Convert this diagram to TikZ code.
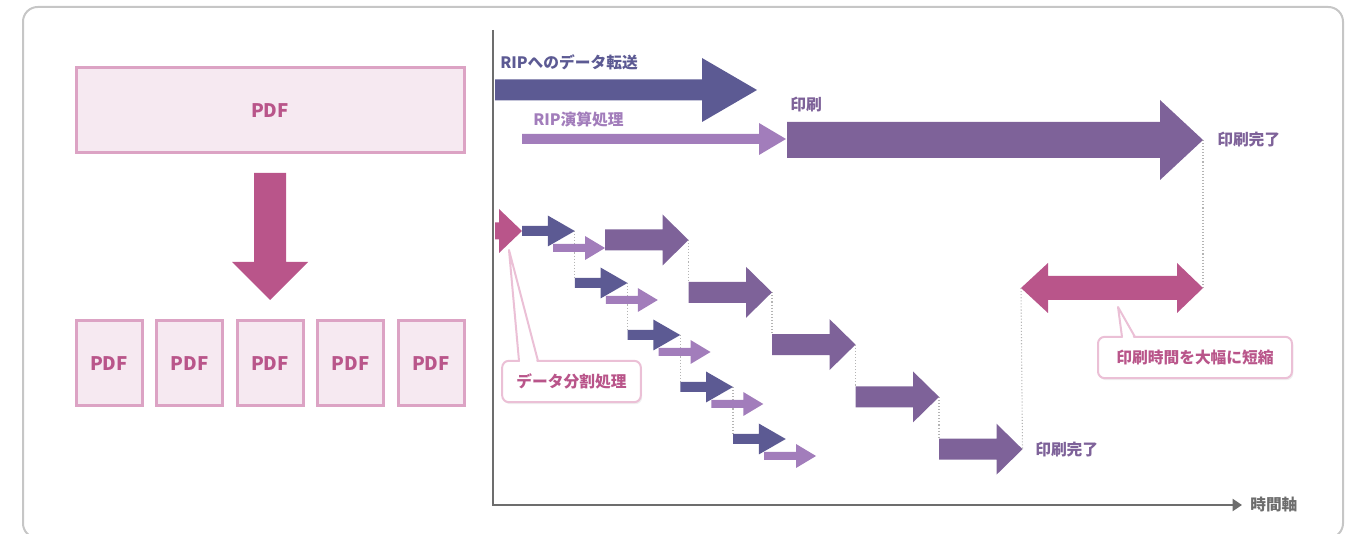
\documentclass[tikz,border=0pt]{standalone}
\usepackage{fontspec}
\setmainfont{Noto Sans CJK JP}
\usetikzlibrary{arrows.meta,shadows,backgrounds}
\definecolor{pinkc}{HTML}{B9558A}
\definecolor{boxline}{HTML}{DCA3C4}
\definecolor{boxfill}{HTML}{F6E9F1}
\definecolor{transc}{HTML}{5C5A93}
\definecolor{ripc}{HTML}{A27DBB}
\definecolor{printc}{HTML}{7E6299}
\definecolor{axisc}{HTML}{6D6D6D}
\definecolor{framec}{HTML}{C6C6C6}
\definecolor{callc}{HTML}{EBC0D6}
\definecolor{dotc}{HTML}{B4B4B4}
% block arrow: name, colour, x start, y centre, length, shaft half, head half, head length
\newcommand{\blockarrow}[8]{%
	\fill[#2] (#3,#4-#6)--++(#5-#8,0)--++(0,#6-#7)--(#3+#5,#4)--(#3+#5-#8,#4+#7)--++(0,#6-#7)--(#3,#4+#6)--cycle;
	\coordinate (#1-tip) at (#3+#5,#4);
	\coordinate (#1-top) at (#3,#4-#6);}
\tikzset{pdfbox/.style={draw=boxline,fill=boxfill,line width=2.25pt,text=pinkc,font=\bfseries\fontsize{14pt}{16pt}\selectfont},
	lbl/.style={anchor=west,inner sep=0pt},
	dotline/.style={dotc,line width=0.8pt,dash pattern=on 0.8pt off 1.5pt},
	callbox/.style={draw=callc,fill=white,line width=1.5pt,rounded corners=5pt,text=pinkc,minimum height=31pt,
		drop shadow={opacity=0.12,shadow xshift=1pt,shadow yshift=-1.5pt}},
	callline/.style={callc,line width=1.5pt,line join=round}}
\begin{document}
\begin{tikzpicture}[x=0.75pt,y=-0.75pt,font=\bfseries\fontsize{11.8pt}{14pt}\selectfont,line cap=butt]
	\useasboundingbox (0,0) rectangle (1361,534);
	\draw[framec,line width=1.5pt,rounded corners=11pt] (23,7) rectangle (1343,538);
	% PDF split
	\node[pdfbox,minimum width=291pt,minimum height=63.75pt] (whole) at (270,110.5) {PDF};
	\fill[pinkc] (254,173)--(286,173)--(286,262)--(308,262)--(270,300)--(232,262)--(254,262)--cycle;
	\foreach \i in {0,...,4}
		\node[pdfbox,minimum width=49.5pt,minimum height=63.75pt] (part\i) at (109+80.5*\i,363.5) {PDF};
	% time axis
	\draw[axisc,line width=1.5pt,-{Triangle[length=7pt,width=9pt]}] (493,30)--(493,505)--(1242,505);
	\node[lbl,text=axisc] (taxis) at (1250,505) {時間軸};
	% without split
	\blockarrow{tr}{transc}{495}{90}{262}{10.5}{32}{55}
	\blockarrow{rip}{ripc}{522}{139}{264}{5}{16}{27}
	\blockarrow{main}{printc}{787}{140}{416}{18}{40}{43}
	\node[lbl,text=transc] (ltr) at (500,62) {RIPへのデータ転送};
	\node[lbl,text=ripc] (lrip) at (533,120) {RIP演算処理};
	\node[lbl,text=printc] (lprint) at (790,105) {印刷};
	\node[lbl,text=printc] (ldone) at (1217,140) {印刷完了};
	% with split
	\blockarrow{split}{pinkc}{495}{231}{27}{8.5}{22}{23}
	\foreach \i in {0,...,4}{
		\pgfmathsetmacro\bx{522+52.75*\i}
		\pgfmathsetmacro\by{231+52*\i}
		\pgfmathsetmacro\px{605+83.5*\i}
		\pgfmathsetmacro\py{240+52.3*\i}
		\blockarrow{b\i}{transc}{\bx}{\by}{52.75}{5}{15.5}{27}
		\blockarrow{r\i}{ripc}{\bx+31}{\by+17}{52}{4}{12}{20}
		\blockarrow{p\i}{printc}{\px}{\py}{83.5}{10.5}{25.5}{26}
	}
	\node[lbl,text=printc] (ldone2) at (1035,450) {印刷完了};
	\fill[pinkc] (1021,288)--(1048,263)--(1048,276)--(1177,276)--(1177,263)--(1203,288)--(1177,313)--(1177,300)--(1048,300)--(1048,313)--cycle;
	\coordinate (gapl) at (1021,288);
	\coordinate (gapr) at (1203,288);
	\begin{scope}[on background layer]
		\foreach \i [evaluate=\i as \j using int(\i+1)] in {0,...,3}{
			\draw[dotline] (b\i-tip)--(b\j-top);
			\draw[dotline] (p\i-tip)--(p\j-top);
		}
		\draw[dotline] (main-tip)--(gapr);
		\draw[dotline] (gapl)--(p4-tip);
	\end{scope}
	% callouts
	\node[callbox,minimum width=104pt] (csplit) at (571.5,381.5) {データ分割処理};
	\fill[white] (520,363)--(509,250)--(537,363)--cycle;
	\draw[callline] (519,361)--(509,250)--(538,361);
	\node[callbox,minimum width=145.5pt] (cshort) at (1195,357.5) {印刷時間を大幅に短縮};
	\fill[white] (1123,339)--(1118,307)--(1134,339)--cycle;
	\draw[callline] (1122,337)--(1118,307)--(1135,337);
\end{tikzpicture}
\end{document}
